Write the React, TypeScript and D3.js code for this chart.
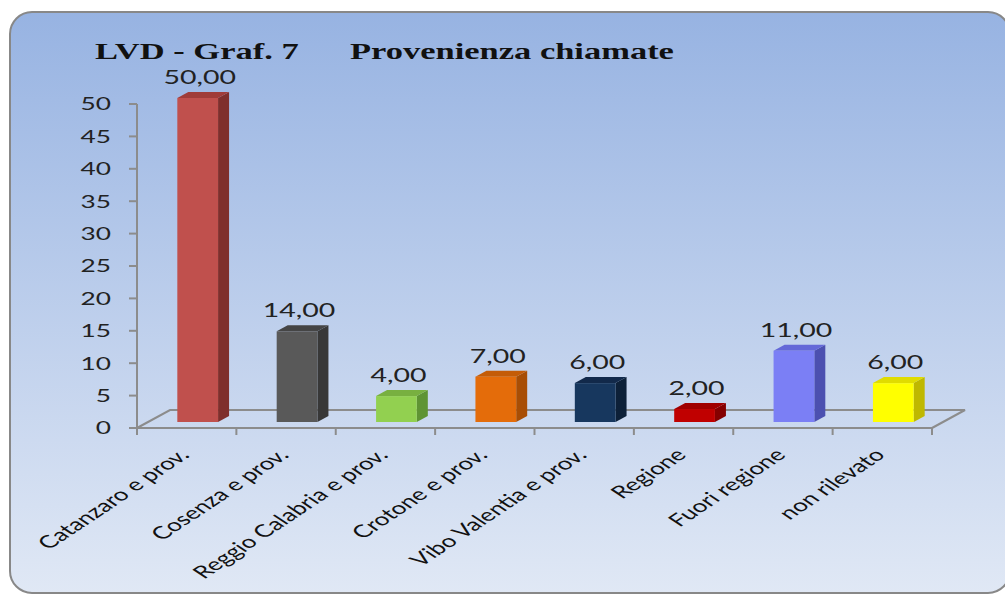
import React from "react";
import * as d3 from "d3";

const categories = [
  "Catanzaro e prov.",
  "Cosenza e prov.",
  "Reggio Calabria e prov.",
  "Crotone e prov.",
  "Vibo Valentia e prov.",
  "Regione",
  "Fuori regione",
  "non rilevato",
];
const values = [50, 14, 4, 7, 6, 2, 11, 6];
const frontColors = ["#c0504d", "#595959", "#92d050", "#e46c0a", "#17375e", "#c00000", "#7b7ff5", "#ffff00"];
const sideColors = ["#7f2f2c", "#383838", "#5f9433", "#a84e05", "#0d2038", "#850000", "#4c50b0", "#bfb800"];
const topColors = ["#a03c39", "#454545", "#78b040", "#c45c07", "#12294a", "#a00000", "#6468d8", "#e0dc00"];
const yTicks = [0, 5, 10, 15, 20, 25, 30, 35, 40, 45, 50];
const titleLeft = "LVD - Graf. 7";
const titleRight = "Provenienza chiamate";

const W = 1005;
const H = 596;
const SX = 1.5;

export default function App() {
  const x = d3.scaleBand<string>().domain(categories).range([137, 932]).padding(0);
  const y = d3.scaleLinear().domain([0, 50]).range([428, 104]);
  const bw = x.bandwidth();
  const barW = bw * 0.41;
  const floorDx = 33;
  const floorDy = -18;
  const fdx = floorDx / 3;
  const fdy = floorDy / 3;
  const x0 = 137;
  const x1 = 932;
  const y0 = y(0);
  const sans = "Lato, 'Open Sans', sans-serif";
  const fmt = (v: number) => v.toFixed(2).replace(".", ",");

  return (
    <svg width={W} height={H} style={{ position: "fixed", left: 0, top: 0, background: "#fff" }}>
      <defs>
        <linearGradient id="bg" x1="0" y1="0" x2="0" y2="1">
          <stop offset="0" stopColor="#97b3e2" />
          <stop offset="1" stopColor="#e0e8f5" />
        </linearGradient>
      </defs>
      <rect x={10} y={12} width={1000} height={581} rx={22} ry={22} fill="url(#bg)" stroke="#888" strokeWidth={2} />

      {/* title */}
      <g fontFamily="'Liberation Serif', serif" fontWeight="bold" fontSize={23} fill="#111">
        <text transform={`translate(95,59) scale(${SX},1)`}>{titleLeft}</text>
        <text transform={`translate(350,59) scale(${SX},1)`}>{titleRight}</text>
      </g>

      {/* floor */}
      <path
        d={`M${x0},${y0} L${x0 + floorDx},${y0 + floorDy} L${x1 + floorDx},${y0 + floorDy} L${x1},${y0}`}
        fill="none"
        stroke="#8c8c8c"
        strokeWidth={2}
      />
      {/* y axis */}
      <line x1={x0} x2={x0} y1={y(50)} y2={y0} stroke="#8c8c8c" strokeWidth={2} />
      <line x1={x0} x2={x1} y1={y0} y2={y0} stroke="#8c8c8c" strokeWidth={2} />
      {yTicks.map((t) => (
        <g key={t}>
          <line x1={x0 - 8} x2={x0} y1={y(t)} y2={y(t)} stroke="#8c8c8c" strokeWidth={2} />
          <text
            transform={`translate(111,${y(t)}) scale(${SX},1)`}
            textAnchor="end"
            dy="0.36em"
            fontFamily={sans}
            fontSize={17.5}
            fill="#222"
          >
            {t}
          </text>
        </g>
      ))}
      {/* category ticks */}
      {[...categories.map((c) => x(c) as number), x1].map((tx, i) => (
        <line key={i} x1={tx} x2={tx} y1={y0} y2={y0 + 7} stroke="#8c8c8c" strokeWidth={2} />
      ))}

      {/* bars */}
      {categories.map((c, i) => {
        const v = values[i];
        const bx = (x(c) as number) + (bw - barW) / 2 + fdx;
        const top = y(v) + fdy;
        const bot = y(0) + fdy;
        const r = bx + barW;
        return (
          <g key={c}>
            <polygon
              points={`${r},${top} ${r + fdx},${top + fdy} ${r + fdx},${bot + fdy} ${r},${bot}`}
              fill={sideColors[i]}
            />
            <polygon
              points={`${bx},${top} ${bx + fdx},${top + fdy} ${r + fdx},${top + fdy} ${r},${top}`}
              fill={topColors[i]}
            />
            <rect x={bx} y={top} width={barW} height={bot - top} fill={frontColors[i]} />
            <text
              transform={`translate(${bx + barW / 2 + 2},${top + fdy - 8}) scale(${SX},1)`}
              textAnchor="middle"
              fontFamily={sans}
              fontSize={19}
              fill="#222"
            >
              {fmt(v)}
            </text>
          </g>
        );
      })}

      {/* category labels */}
      {categories.map((c) => {
        const cx = (x(c) as number) + bw / 2 + 4;
        return (
          <text
            key={c}
            transform={`translate(${cx},456) scale(${SX},1) rotate(-45)`}
            textAnchor="end"
            fontFamily={sans}
            fontSize={17.5}
            fill="#111"
          >
            {c}
          </text>
        );
      })}
    </svg>
  );
}
